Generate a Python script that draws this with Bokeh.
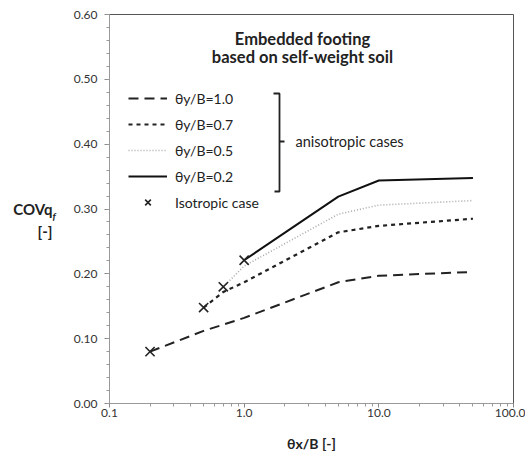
import numpy as np
from bokeh.plotting import figure
from bokeh.models import (Range1d, FixedTicker, NumeralTickFormatter, LinearAxis,
                          CustomJSTickFormatter, Label, Legend, LegendItem)
from bokeh.embed import file_html
from bokeh.resources import INLINE

# ---------------- data ----------------
x_theta_1_0 = [0.2, 0.5, 1.0, 5.0, 10.0, 50.0]
cov_theta_1_0 = [0.080, 0.112, 0.132, 0.187, 0.197, 0.203]

x_theta_0_7 = [0.5, 0.7, 1.0, 5.0, 10.0, 50.0]
cov_theta_0_7 = [0.148, 0.172, 0.187, 0.264, 0.274, 0.285]

x_theta_0_5 = [0.7, 1.0, 5.0, 10.0, 50.0]
cov_theta_0_5 = [0.180, 0.212, 0.292, 0.306, 0.313]

x_theta_0_2 = [1.0, 5.0, 10.0, 50.0]
cov_theta_0_2 = [0.221, 0.319, 0.344, 0.348]

x_isotropic = [0.2, 0.5, 0.7, 1.0]
cov_isotropic = [0.080, 0.148, 0.180, 0.221]

series_labels = ["θy/B=1.0", "θy/B=0.7", "θy/B=0.5", "θy/B=0.2"]
iso_label = "Isotropic case"
x_ticks = [0.1, 1.0, 10.0, 100.0]
y_ticks = [0.0, 0.1, 0.2, 0.3, 0.4, 0.5, 0.6]

FONT = "Lato"

# ---------------- layout ----------------
W, H = 525, 457
ML, MR, MT, MB = 109, 12, 14, 54
FW, FH = W - ML - MR, H - MT - MB
X0, X1, Y0, Y1 = 0.1, 100.0, 0.0, 0.6


def ax(px):  # data x at a pixel offset from the frame's left edge
    return 10 ** (np.log10(X0) + px / FW * (np.log10(X1) - np.log10(X0)))


def ay(px):  # data y at a pixel offset from the frame's bottom edge
    return Y0 + px / FH * (Y1 - Y0)


p = figure(width=W, height=H, x_axis_type="log", output_backend="svg",
           toolbar_location=None, x_range=Range1d(X0, X1), y_range=Range1d(Y0, Y1),
           min_border_left=ML, min_border_right=MR, min_border_top=MT,
           min_border_bottom=MB)
p.background_fill_color = "white"
p.border_fill_color = "white"
p.outline_line_color = "#555555"
p.xgrid.visible = False
p.ygrid.visible = False

# axes
p.xaxis.ticker = FixedTicker(ticks=x_ticks,
                             minor_ticks=[m * d for d in (0.1, 1, 10) for m in range(2, 10)])
p.xaxis.formatter = CustomJSTickFormatter(code="return tick.toFixed(1);")
p.yaxis.ticker = FixedTicker(ticks=y_ticks,
                             minor_ticks=[i * 0.02 for i in range(31)])
p.yaxis.formatter = NumeralTickFormatter(format="0.00")
for a in (p.xaxis, p.yaxis):
    a.axis_line_color = "#999999"
    a.major_tick_line_color = "#888888"
    a.minor_tick_line_color = "#999999"
    a.major_tick_in = 0
    a.minor_tick_in = 0
    a.major_label_text_font = FONT
    a.major_label_text_font_size = "12px"
    a.major_label_text_color = "#333333"
p.xaxis.major_tick_out = 4
p.xaxis.minor_tick_out = 3
p.xaxis.major_label_standoff = 1
p.yaxis.major_tick_out = 5
p.yaxis.minor_tick_out = 3
p.yaxis.major_label_standoff = 7

p.xaxis.axis_label = "θx/B [-]"
p.xaxis.axis_label_text_font = FONT
p.xaxis.axis_label_text_font_size = "14px"
p.xaxis.axis_label_text_font_style = "bold"
p.xaxis.axis_label_text_color = "#222222"
p.xaxis.axis_label_standoff = 15

# y-axis title: subscript "f" on the main axis, "COVq" / "[-]" on an outer, bare axis
p.yaxis.axis_label = "\nf"
p.yaxis.axis_label_orientation = "horizontal"
p.yaxis.axis_label_standoff = 15
p.yaxis.axis_label_text_font = FONT
p.yaxis.axis_label_text_font_size = "10px"
p.yaxis.axis_label_text_font_style = "bold italic"
p.yaxis.axis_label_text_color = "#222222"

outer = LinearAxis(ticker=FixedTicker(ticks=[]), axis_line_color=None,
                   major_tick_line_color=None, minor_tick_line_color=None,
                   axis_label="\nCOVq\n[-]", axis_label_orientation="horizontal",
                   axis_label_standoff=-3, axis_label_text_font=FONT,
                   axis_label_text_font_size="15px", axis_label_text_font_style="bold",
                   axis_label_text_color="#222222")
p.add_layout(outer, "left")

# series
r1 = p.line(x_theta_1_0, cov_theta_1_0, line_color="#222222", line_width=2, line_dash="10 6")
r2 = p.line(x_theta_0_7, cov_theta_0_7, line_color="#222222", line_width=2.2, line_dash="4 4")
r3 = p.line(x_theta_0_5, cov_theta_0_5, line_color="#aaaaaa", line_width=1.6, line_dash="1 2")
r4 = p.line(x_theta_0_2, cov_theta_0_2, line_color="#111111", line_width=2)
r5 = p.scatter(x_isotropic, cov_isotropic, marker="x", size=13, line_color="#222222",
               line_width=1.6)

legend = Legend(items=[LegendItem(label=series_labels[0], renderers=[r1]),
                       LegendItem(label=series_labels[1], renderers=[r2]),
                       LegendItem(label=series_labels[2], renderers=[r3]),
                       LegendItem(label=series_labels[3], renderers=[r4]),
                       LegendItem(label=iso_label, renderers=[r5])],
                location=(19, 191), padding=0, margin=0, spacing=6,
                glyph_width=39, glyph_height=20, label_height=20, label_standoff=8,
                border_line_color=None, background_fill_alpha=0,
                label_text_font=FONT, label_text_font_size="14px",
                label_text_color="#222222")
p.add_layout(legend, "center")

# chart title inside the frame
for txt, yy in (("Embedded footing", 365), ("based on self-weight soil", 347)):
    p.add_layout(Label(x=ax(193), y=ay(yy), text=txt, text_align="center",
                       text_baseline="middle", text_font=FONT, text_font_size="16.5px",
                       text_font_style="bold", text_color="#222222"))

# bracket and "anisotropic cases"
p.line([ax(164), ax(170), ax(170), ax(165)], [ay(310), ay(310), ay(212), ay(212)],
       line_color="#222222", line_width=1.8)
p.line([ax(170), ax(175)], [ay(262), ay(262)], line_color="#222222", line_width=1.8)
p.add_layout(Label(x=ax(186), y=ay(262), text="anisotropic cases", text_align="left",
                   text_baseline="middle", text_font=FONT, text_font_size="14.5px",
                   text_color="#222222"))

open("out.html", "w").write(file_html(p, INLINE))
